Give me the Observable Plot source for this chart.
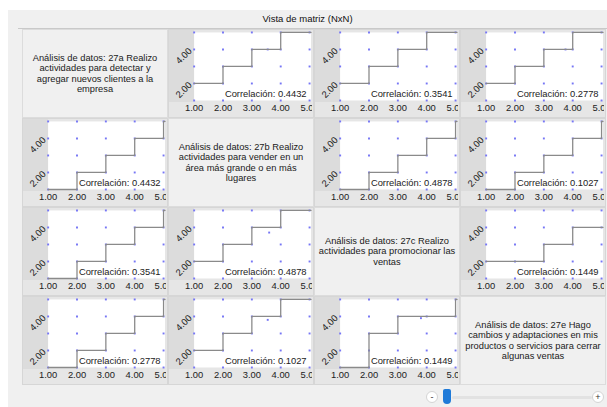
<!DOCTYPE html>
<html><head><meta charset="utf-8">
<script src="https://cdn.jsdelivr.net/npm/d3@7"></script>
<script src="https://cdn.jsdelivr.net/npm/@observablehq/plot@0.6"></script>
<style>
body{margin:0;background:#fff;font-family:"Liberation Sans",Arial,sans-serif;width:607px;height:407px;overflow:hidden;position:relative;}
#panel{position:absolute;left:8px;top:10px;width:599px;height:397px;background:#f0f0f0;}
#title{position:absolute;left:0;top:0;width:599px;height:18px;line-height:18px;text-align:center;font-size:9.5px;color:#111;}
#rule{position:absolute;left:10px;top:18px;width:589px;height:1px;background:#c9c9c9;}
.cell{position:absolute;overflow:hidden;box-sizing:border-box;}
.txt{background:#f0f0f0;display:flex;align-items:center;justify-content:center;text-align:center;font-size:9.3px;line-height:10.5px;color:#1a1a1a;border:1px solid #dcdcdc;}
.plt{background:#e6e6e6;border:1px solid #d6d6d6;}
.band{position:absolute;left:0;top:0;width:25px;height:72px;background:#dcdcdc;}
.plt svg{position:absolute;left:-1px;top:-1px;}
#minus,#plus{position:absolute;width:12px;height:12px;border-radius:50%;background:#fff;border:1px solid #d4d4d4;box-sizing:border-box;font-size:9px;line-height:10px;text-align:center;color:#333;}
#track{position:absolute;height:3px;background:#e2e2e2;border-radius:2px;}
#thumb{position:absolute;width:8px;height:15px;background:#1f7ad8;border-radius:2px 2px 4px 4px;}
</style></head>
<body>
<div id="panel"><div id="title">Vista de matriz (NxN)</div><div id="rule"></div></div>
<div id="grid"></div>
<div id="minus">-</div><div id="track"></div><div id="thumb"></div><div id="plus">+</div>
<script>
// ---- data ----
const variables = [
  "Análisis de datos: 27a Realizo<br>actividades para detectar y<br>agregar nuevos clientes a la<br>empresa",
  "Análisis de datos: 27b Realizo<br>actividades para vender en un<br>área más grande o en más<br>lugares",
  "Análisis de datos: 27c Realizo<br>actividades para promocionar las<br>ventas",
  "Análisis de datos: 27e Hago<br>cambios y adaptaciones en mis<br>productos o servicios para cerrar<br>algunas ventas"
];
const xLevels = [1, 2, 3, 4, 5];
const yLevels = [1, 2, 3, 4, 5];
const xTicks = [1, 2, 3, 4, 5];
const yTicks = [2, 4];
const xMax = 5.05;
// correlation for each pair [row][col]
const correlations = [
  [null, 0.4432, 0.3541, 0.2778],
  [0.4432, null, 0.4878, 0.1027],
  [0.3541, 0.4878, null, 0.1449],
  [0.2778, 0.1027, 0.1449, null]
];
// step line values at x = 1..5 for each cell
const steps = [
  [null, [2,3,4,5,5], [2,3,4,5,5], [2,3,4,5,5]],
  [[1,2,3,4,5], null, [1,2,3,4,5], [1,2,3,4,5]],
  [[1,2,3,4,5], [2,3,4,5,5], null, [2,2,3,4,4]],
  [[1,2,3,4,5], [2,3,4,5,5], [1,3,4,4,5], null]
];
// extra (non-integer) points seen in some cells: [row, col, x, y]
const extraPoints = [
  [0, 1, 3.55, 4], [0, 3, 3.75, 4], [2, 1, 3.6, 3.7],
  [3, 1, 3.55, 3.8], [3, 2, 3.8, 3.9]
];

// ---- layout ----
const CW = 146, CH = 89, X0 = 22, Y0 = 29;
const fmt = d3.format(".2f");
const grid = document.getElementById("grid");
const font = "'Liberation Sans', Arial, sans-serif";

function cellPlot(r, c) {
  const pts = [];
  for (const x of xLevels) for (const y of yLevels) pts.push({x, y});
  for (const e of extraPoints) if (e[0] === r && e[1] === c) pts.push({x: e[2], y: e[3]});
  const s = steps[r][c];
  const line = s.map((y, i) => ({x: xLevels[i], y}));
  line.push({x: xMax, y: s[s.length - 1]});
  return Plot.plot({
    width: CW, height: CH,
    marginLeft: 26, marginRight: 1.5, marginTop: 3, marginBottom: 17,
    x: {domain: [1, xMax], label: null},
    y: {domain: [1, 5], label: null},
    style: {background: "transparent", fontSize: "9.5px", fontFamily: font, color: "#222", overflow: "hidden"},
    marks: [
      Plot.frame({fill: "white"}),
      Plot.axisX({ticks: xTicks, tickSize: 0, tickPadding: 4, tickFormat: fmt, fontSize: 9.5, label: null}),
      Plot.axisY({ticks: yTicks, tickSize: 0, tickPadding: 4, tickRotate: -45, tickFormat: fmt, fontSize: 9.5, label: null}),
      Plot.dot(pts, {x: "x", y: "y", symbol: "square", r: 1.1, fill: "#7676f5"}),
      Plot.line(line, {x: "x", y: "y", curve: "step-after", stroke: "#8a8a8a", strokeWidth: 1.3}),
      Plot.text(["Correlación: " + correlations[r][c].toFixed(4)], {frameAnchor: "bottom-right", dx: -4.5, dy: -4, text: d => d, fontSize: 9.5, fill: "#222"})
    ]
  });
}

for (let r = 0; r < 4; r++) {
  for (let c = 0; c < 4; c++) {
    const d = document.createElement("div");
    d.style.left = (X0 + CW * c) + "px";
    d.style.top = (Y0 + CH * r) + "px";
    d.style.width = CW + "px";
    d.style.height = CH + "px";
    if (r === c) {
      d.className = "cell txt";
      d.innerHTML = "<div>" + variables[r] + "</div>";
    } else {
      d.className = "cell plt";
      const b = document.createElement("div"); b.className = "band"; d.appendChild(b);
      d.appendChild(cellPlot(r, c));
    }
    grid.appendChild(d);
  }
}
// slider
const place = (id, l, t, w) => { const e = document.getElementById(id); e.style.left = l + "px"; e.style.top = t + "px"; if (w) e.style.width = w + "px"; };
place("minus", 426, 391); place("track", 452, 396, 140); place("thumb", 443, 389); place("plus", 592, 391);
</script>
</body></html>
